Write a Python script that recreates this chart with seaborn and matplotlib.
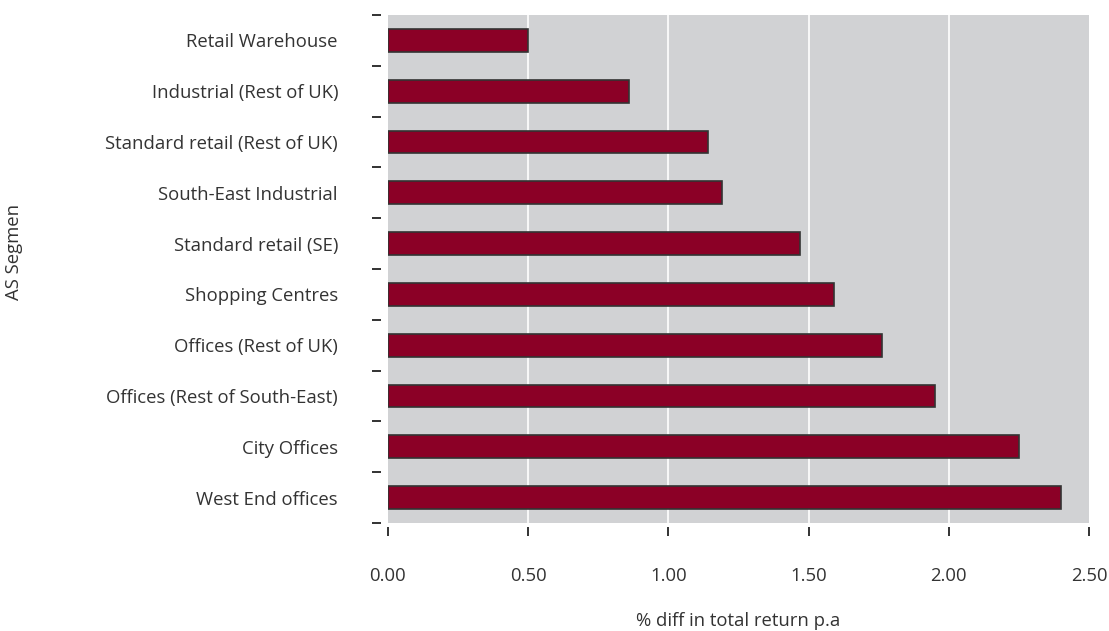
import numpy as np
import pandas as pd
import matplotlib
matplotlib.use("Agg")
import matplotlib.pyplot as plt
import seaborn as sns
from matplotlib.ticker import FixedLocator, NullFormatter

segments = [
    "Retail Warehouse",
    "Industrial (Rest of UK)",
    "Standard retail (Rest of UK)",
    "South-East Industrial",
    "Standard retail (SE)",
    "Shopping Centres",
    "Offices (Rest of UK)",
    "Offices (Rest of South-East)",
    "City Offices",
    "West End offices",
]
diff_return = [0.50, 0.86, 1.14, 1.19, 1.47, 1.59, 1.76, 1.95, 2.25, 2.40]
x_ticks = [0.0, 0.5, 1.0, 1.5, 2.0, 2.5]

df = pd.DataFrame({"segment": segments, "diff": diff_return})

sns.set_theme(style="white")
plt.rcParams["font.family"] = ["Open Sans", "DejaVu Sans"]
text_col = "#333333"
fs = 13.3

fig = plt.figure(figsize=(11.09, 6.31), dpi=100)
ax = fig.add_axes([388 / 1109, 1 - 523 / 631, (1089 - 388) / 1109, (523 - 15) / 631])
ax.set_facecolor("#d1d2d4")

sns.barplot(
    data=df, x="diff", y="segment", order=segments, orient="h",
    color="#8b0026", saturation=1, width=0.45,
    edgecolor="#333333", linewidth=1.2, ax=ax,
)

ax.set_xlim(0, 2.5)
ax.set_ylim(len(segments) - 0.5, -0.5)
ax.set_xticks(x_ticks)
ax.set_xticklabels([f"{v:.2f}" for v in x_ticks])
for v in x_ticks[1:-1]:
    ax.axvline(v, color="white", lw=1.2, zorder=0.5)
ax.set_axisbelow(True)

# category labels on bar centres, tick marks between bars
ax.tick_params(axis="y", which="major", length=0, pad=31, labelsize=fs, labelcolor=text_col)
ax.yaxis.set_minor_locator(FixedLocator(np.arange(-0.5, len(segments), 1.0)))
ax.yaxis.set_minor_formatter(NullFormatter())
ax.tick_params(axis="y", which="minor", left=True, length=6.5, width=1.3, color="#222222")
ax.tick_params(axis="x", which="major", bottom=True, length=6.5, width=1.3,
               color="#222222", pad=22, labelsize=fs, labelcolor=text_col)

for s in ax.spines.values():
    s.set_visible(False)
ax.spines["left"].set_position(("outward", 5))
ax.spines["bottom"].set_position(("outward", 3))

ax.set_xlabel("% diff in total return p.a", fontsize=fs, color=text_col, labelpad=19.5)
ax.set_ylabel("AS Segmen", fontsize=fs, color=text_col)
ax.yaxis.set_label_coords(-0.521, 0.533)

fig.savefig("out.png", dpi=100)
